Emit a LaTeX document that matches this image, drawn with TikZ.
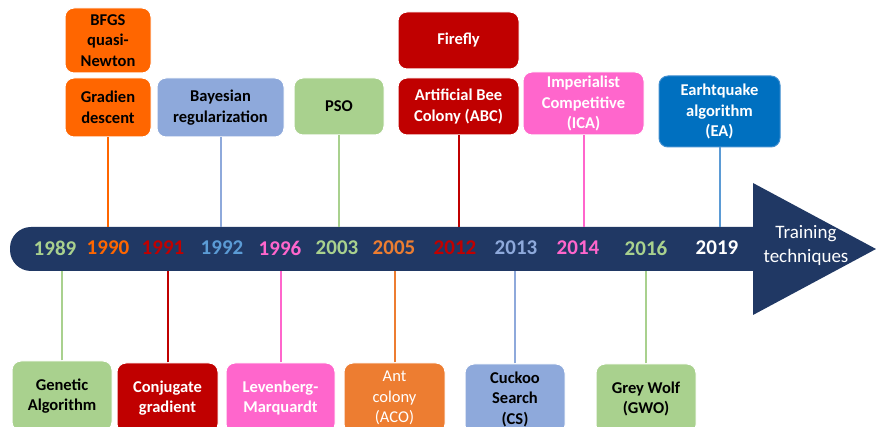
\documentclass[tikz,border=0pt]{standalone}
\usepackage{fontspec}
\setmainfont{Carlito}
\usetikzlibrary{positioning}
\definecolor{navy}{HTML}{203864}
\definecolor{orng}{HTML}{FF6600}
\definecolor{orngb}{HTML}{ED7D31}
\definecolor{dred}{HTML}{C00000}
\definecolor{lblue}{HTML}{8EA9DB}
\definecolor{mblue}{HTML}{5B9BD5}
\definecolor{pinky}{HTML}{FF66CC}
\definecolor{lgreen}{HTML}{A9D18E}
\definecolor{eblue}{HTML}{0070C0}

\begin{document}
\begin{tikzpicture}[x=1pt, y=-1pt,
			box/.style = {rounded corners=9pt, draw=white, line width=1pt, align=center,
				inner sep=0pt, font=\fontsize{16.5}{20.5}\selectfont\bfseries},
			wbox/.style = {box, text=white},
			link/.style = {line width=2pt},
			year/.style = {font=\fontsize{21}{24}\selectfont\bfseries},
			]
		\useasboundingbox (0,0) rectangle (876,427);
		\clip (0,0) rectangle (876,427);
		
					% time line arrow
					\fill[navy, rounded corners=21pt] (10,227) rectangle (780,271);
					\fill[navy] (753,183) -- (876,249) -- (753,315) -- cycle;
					\coordinate (bartop) at (0,227);
					\coordinate (barbot) at (0,271);
					\node[font=\fontsize{19}{24}\selectfont, text=white, align=center] (tt) at (806,245) {Training\\techniques};
					
					\foreach \yx/\yr/\yc in {55/1989/lgreen, 108/1990/orng, 163/1991/dred, 222/1992/mblue,
						280/1996/pinky, 337/2003/lgreen, 394/2005/orngb, 455/2012/dred, 516/2013/lblue,
						578/2014/pinky, 646/2016/lgreen, 717/2019/white} % years on line
					\node[year, text=\yc] (y\yr) at (\yx,248) {\yr};
					
					% boxes above
					\node[box, fill=orng, minimum width=86pt, minimum height=65pt] (bfgs) at (108,40.5) {BFGS\\quasi-\\Newton};
					\node[box, fill=orng, minimum width=86pt, minimum height=59pt] (gd) at (108,107.5) {Gradien\\descent};
					\node[box, fill=lblue, minimum width=127pt, minimum height=59pt] (bay) at (220.5,107.5) {Bayesian\\regularization};
					\node[box, fill=lgreen, minimum width=90pt, minimum height=57pt] (pso) at (339,106.5) {PSO};
					\node[wbox, fill=dred, minimum width=121pt, minimum height=57pt] (ff) at (458.5,40.5) {Firefly};
					\node[wbox, fill=dred, minimum width=121pt, minimum height=57pt] (abc) at (458.5,106.5) {Artificial Bee\\Colony (ABC)};
					\node[wbox, fill=pinky, minimum width=121pt, minimum height=63pt] (ica) at (583.5,103.5) {Imperialist\\Competitive\\(ICA)};
					\node[wbox, fill=eblue, draw=mblue!70!eblue, minimum width=121pt, minimum height=71pt] (ea) at (719.5,111.5) {Earhtquake\\algorithm\\(EA)};
					
					% boxes below
					\node[box, fill=lgreen, minimum width=100pt, minimum height=70pt] (ga) at (62,396) {Genetic\\Algorithm};
					\node[wbox, fill=dred, minimum width=101pt, minimum height=70pt] (cg) at (167.5,398) {Conjugate\\gradient};
					\node[wbox, fill=pinky, minimum width=109pt, minimum height=70pt] (lm) at (280.5,398) {Levenberg-\\Marquardt};
					\node[wbox, fill=orngb, minimum width=101pt, minimum height=70pt, font=\fontsize{16.5}{20.5}\selectfont] (aco) at (394.5,398) {Ant\\colony\\(ACO)};
					\node[box, fill=lblue, minimum width=100pt, minimum height=70pt] (cs) at (515,399) {Cuckoo\\Search\\(CS)};
					\node[box, fill=lgreen, minimum width=100pt, minimum height=70pt] (gwo) at (646,399) {Grey Wolf\\(GWO)};
					
					\foreach \b/\c in {gd/orng, bay/lblue, pso/lgreen, abc/dred, ica/pinky, ea/mblue}
					\draw[link, \c] (\b.south) -- (\b.south |- bartop);    % <---
					\foreach \b/\c in {ga/lgreen, cg/dred, lm/pinky, aco/orngb, cs/lblue, gwo/lgreen}
					\draw[link, \c] (\b.north) -- (\b.north |- barbot);    % <---
					
		\end{tikzpicture}
\end{document}
